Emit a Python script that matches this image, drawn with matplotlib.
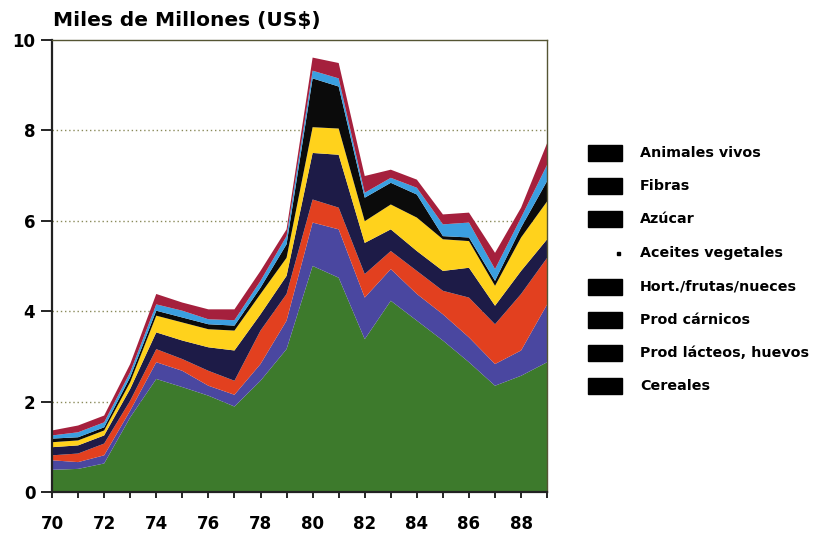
import numpy as np
import matplotlib.pyplot as plt
from matplotlib.patches import Rectangle

plt.rcParams['font.family'] = ['DejaVu Sans']

years = np.arange(70, 90)

# valores por categoria (miles de millones US$)
cereales = [0.49, 0.51, 0.63, 1.65, 2.50, 2.32, 2.13, 1.89, 2.46, 3.16,
            5.00, 4.74, 3.38, 4.23, 3.79, 3.35, 2.87, 2.35, 2.57, 2.87]
lacteos = [0.21, 0.15, 0.18, 0.15, 0.37, 0.36, 0.22, 0.26, 0.37, 0.63,
           0.96, 1.07, 0.92, 0.70, 0.59, 0.58, 0.55, 0.48, 0.56, 1.28]
carnicos = [0.11, 0.19, 0.26, 0.22, 0.29, 0.26, 0.33, 0.31, 0.74, 0.59,
            0.51, 0.48, 0.52, 0.40, 0.51, 0.52, 0.88, 0.88, 1.25, 1.03]
hort = [0.18, 0.18, 0.18, 0.26, 0.37, 0.41, 0.52, 0.67, 0.36, 0.40,
        1.03, 1.17, 0.69, 0.48, 0.44, 0.44, 0.66, 0.41, 0.51, 0.41]
aceites = [0.11, 0.11, 0.11, 0.15, 0.37, 0.40, 0.40, 0.44, 0.45, 0.40,
           0.57, 0.58, 0.48, 0.55, 0.74, 0.70, 0.59, 0.44, 0.74, 0.84]
azucar = [0.08, 0.07, 0.07, 0.11, 0.11, 0.11, 0.11, 0.11, 0.14, 0.30,
          1.08, 0.93, 0.52, 0.48, 0.51, 0.07, 0.08, 0.11, 0.22, 0.45]
fibras = [0.07, 0.11, 0.11, 0.11, 0.14, 0.15, 0.11, 0.12, 0.15, 0.18,
          0.17, 0.18, 0.11, 0.11, 0.15, 0.26, 0.33, 0.26, 0.22, 0.36]
animales = [0.11, 0.15, 0.15, 0.18, 0.23, 0.18, 0.22, 0.24, 0.22, 0.15,
            0.29, 0.34, 0.37, 0.18, 0.18, 0.22, 0.22, 0.36, 0.22, 0.48]

labels = ['Cereales', 'Prod lácteos, huevos', 'Prod cárnicos',
          'Hort./frutas/nueces', 'Aceites vegetales', 'Azúcar',
          'Fibras', 'Animales vivos']
colors = ['#3d7a2c', '#4a47a0', '#e2401f', '#1d1b47',
          '#ffd21c', '#0b0b0b', '#3b9fe0', '#a5203d']

fig = plt.figure(figsize=(8.13, 5.4), dpi=100)
ax = fig.add_axes([0.064, 0.089, 0.609, 0.837])

ax.stackplot(years, cereales, lacteos, carnicos, hort, aceites, azucar,
             fibras, animales, colors=colors, zorder=2)

for yv in [2, 4, 6, 8]:
    ax.axhline(yv, color='#8a8a5a', linestyle=(0, (1, 2)), linewidth=1, zorder=1)

ax.set_xlim(70, 89)
ax.set_ylim(0, 10)
ax.set_xticks(np.arange(70, 90))
ax.set_xticklabels([str(y) if y % 2 == 0 else '' for y in years])
ax.set_yticks([0, 2, 4, 6, 8, 10])
ax.tick_params(axis='x', direction='inout', length=9, width=1.2, pad=12,
               labelsize=12)
ax.tick_params(axis='y', direction='out', length=8, width=1.2, pad=4,
               labelsize=12)
for lab in ax.get_xticklabels() + ax.get_yticklabels():
    lab.set_fontweight('bold')
for s in ['left', 'bottom']:
    ax.spines[s].set_linewidth(1.6)
    ax.spines[s].set_color('#222222')
for s in ['top', 'right']:
    ax.spines[s].set_linewidth(1.0)
    ax.spines[s].set_color('#555533')

fig.text(0.065, 0.962, 'Miles de Millones (US$)', fontsize=14.5,
         fontweight='bold', va='center', ha='left')

# leyenda (los recuadros aparecen negros en el original)
leg_y = [153, 186, 219, 253, 287, 320, 353, 386]
for i, lab in enumerate(labels[::-1]):
    yc = 1 - leg_y[i] / 540
    if lab == 'Aceites vegetales':
        fig.add_artist(Rectangle((617 / 813, yc - 1.5 / 540), 3 / 813, 3 / 540,
                                 transform=fig.transFigure, color='black'))
    else:
        fig.add_artist(Rectangle((588 / 813, yc - 8 / 540), 34 / 813, 16 / 540,
                                 transform=fig.transFigure, color='black'))
    fig.text(640 / 813, yc, lab, fontsize=10.3, fontweight='bold',
             va='center', ha='left')

plt.savefig('out.png', dpi=100)
